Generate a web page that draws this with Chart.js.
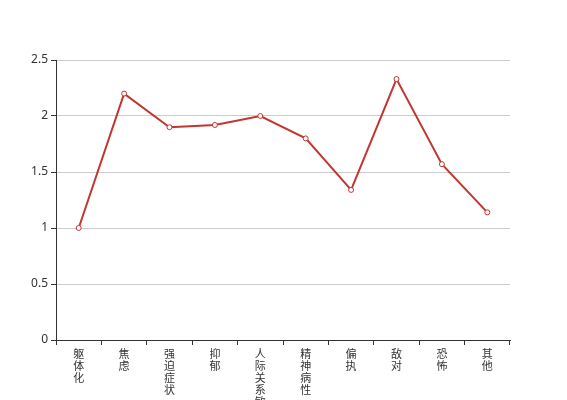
<!DOCTYPE html>
<html>
<head>
<meta charset="utf-8">
<script src="https://cdn.jsdelivr.net/npm/chart.js@4"></script>
<style>
  html, body { margin: 0; padding: 0; background: #fff; }
  #wrap { width: 567px; height: 400px; }
</style>
</head>
<body>
<div id="wrap"><canvas id="scoreChart" width="567" height="400"></canvas></div>
<script>
const categories = ['躯体化', '焦虑', '强迫症状', '抑郁', '人际关系敏感', '精神病性', '偏执', '敌对', '恐怖', '其他'];
const scores = [1.0, 2.2, 1.9, 1.92, 2.0, 1.8, 1.34, 2.33, 1.57, 1.14];
const yTicks = [0, 0.5, 1, 1.5, 2, 2.5];

const ctx = document.getElementById('scoreChart').getContext('2d');

new Chart(ctx, {
  type: 'line',
  data: {
    labels: categories.map(s => s.split('')),
    datasets: [{
      data: scores,
      borderColor: '#c23531',
      borderWidth: 2,
      tension: 0,
      pointRadius: 2.5,
      pointBorderWidth: 1,
      pointBackgroundColor: '#fff',
      pointBorderColor: '#c23531'
    }]
  },
  options: {
    responsive: false,
    animation: false,
    layout: { padding: { top: 60, right: 57, left: 0, bottom: 0 } },
    plugins: {
      legend: { display: false },
      tooltip: { enabled: false }
    },
    scales: {
      x: {
        offset: true,
        afterFit: s => { s.height = 60; },
        grid: { display: true, offset: true, drawOnChartArea: false, tickLength: 5, color: '#333' },
        border: { color: '#333', width: 1 },
        ticks: {
          color: '#333',
          font: { family: '"Noto Sans CJK SC", sans-serif', size: 11, lineHeight: '12px' },
          padding: 3, maxRotation: 0, autoSkip: false
        }
      },
      y: {
        min: 0,
        max: 2.5,
        afterFit: s => { s.width = 56; },
        afterBuildTicks: s => { s.ticks = yTicks.map(v => ({ value: v })); },
        grid: { color: '#ccc', tickLength: 5, tickColor: '#333' },
        border: { color: '#333', width: 1 },
        ticks: {
          color: '#333',
          font: { family: '"Noto Sans", sans-serif', size: 12 },
          padding: 3,
          callback: v => String(v)
        }
      }
    }
  }
});
</script>
</body>
</html>
